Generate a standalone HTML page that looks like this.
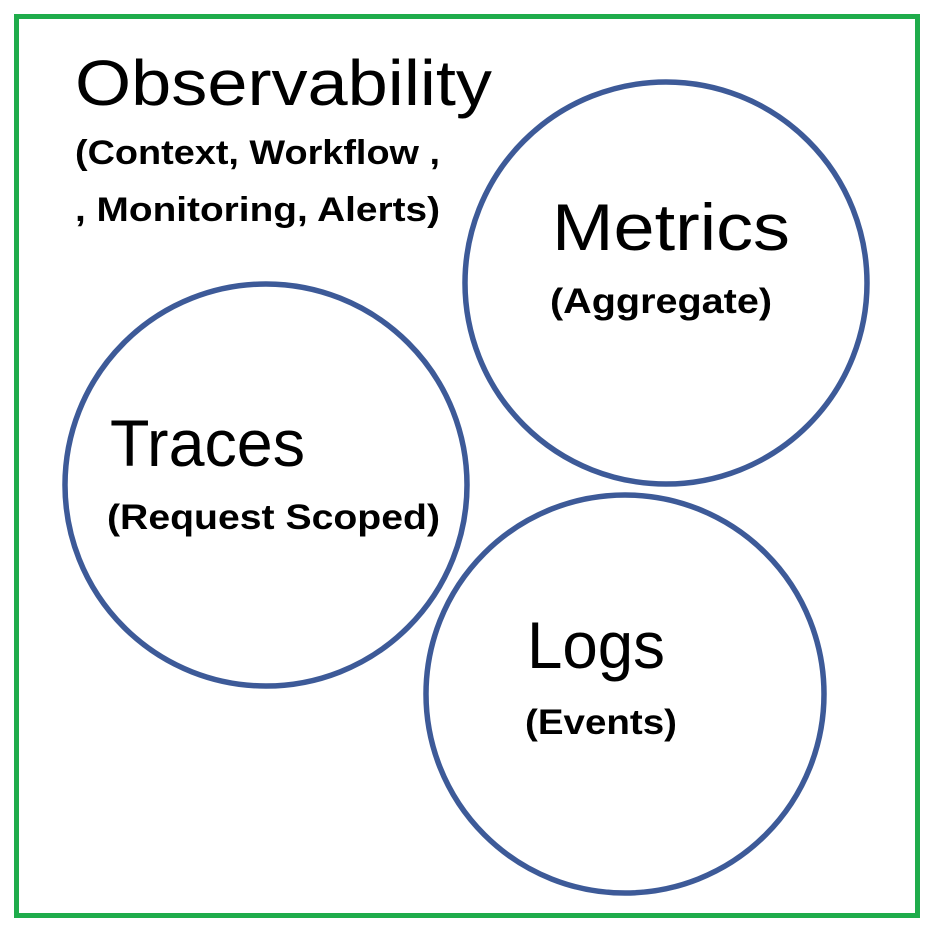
<!DOCTYPE html>
<html><head><meta charset="utf-8"><style>
html,body{margin:0;padding:0;background:#fff;}
svg{display:block;}
text{font-family:"Liberation Sans",sans-serif;fill:#000;}
.b{font-weight:bold;}
</style></head><body>
<svg width="928" height="928" viewBox="0 0 928 928" xmlns="http://www.w3.org/2000/svg">
<rect x="0" y="0" width="928" height="928" fill="#fff"/>
<rect x="16.5" y="16.5" width="901" height="899" fill="none" stroke="#1fac4b" stroke-width="5"/>
<circle cx="666" cy="283" r="201" fill="none" stroke="#3d5a98" stroke-width="5.5"/>
<circle cx="266" cy="485" r="201" fill="none" stroke="#3d5a98" stroke-width="5.5"/>
<circle cx="625" cy="694" r="199" fill="none" stroke="#3d5a98" stroke-width="5.5"/>
<text x="75" y="105" font-size="64" textLength="417" lengthAdjust="spacingAndGlyphs">Observability</text>
<text class="b" x="75" y="164" font-size="34" textLength="365" lengthAdjust="spacingAndGlyphs">(Context, Workflow ,</text>
<text class="b" x="75" y="221" font-size="34" textLength="365" lengthAdjust="spacingAndGlyphs">, Monitoring, Alerts)</text>
<text x="552" y="250" font-size="66" textLength="238" lengthAdjust="spacingAndGlyphs">Metrics</text>
<text class="b" x="550" y="313" font-size="35" textLength="222" lengthAdjust="spacingAndGlyphs">(Aggregate)</text>
<text x="110" y="466" font-size="66" textLength="195" lengthAdjust="spacingAndGlyphs">Traces</text>
<text class="b" x="107" y="529" font-size="35" textLength="333" lengthAdjust="spacingAndGlyphs">(Request Scoped)</text>
<text x="527" y="668" font-size="66" textLength="138" lengthAdjust="spacingAndGlyphs">Logs</text>
<text class="b" x="525" y="734" font-size="35" textLength="152" lengthAdjust="spacingAndGlyphs">(Events)</text>
</svg>
</body></html>
